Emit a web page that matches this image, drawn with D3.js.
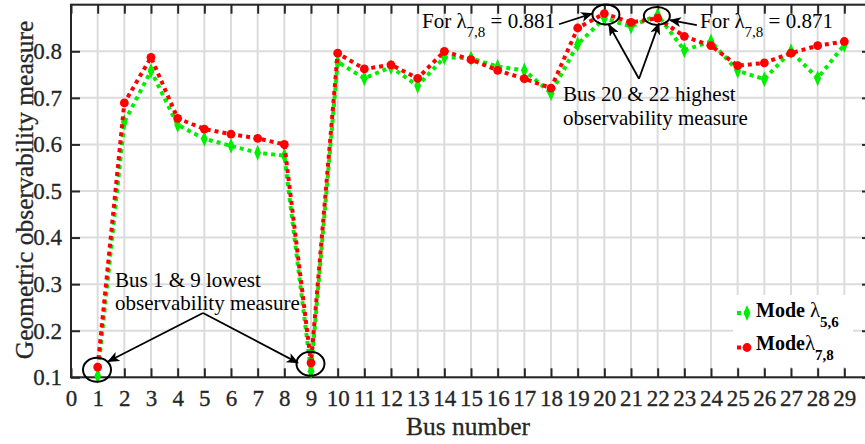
<!DOCTYPE html>
<html>
<head>
<meta charset="utf-8">
<script src="https://cdn.jsdelivr.net/npm/d3@7"></script>
<style>
  body { margin: 0; background: #fff; }
</style>
</head>
<body>
<div id="chart"></div>
<script>
// bus numbers on the x axis
var busNumbers = d3.range(1, 30);

// geometric observability measure for mode lambda 5,6 (green)
var modeL56 = [0.103, 0.648, 0.758, 0.642, 0.612, 0.597, 0.582, 0.576, 0.113, 0.777,
               0.742, 0.766, 0.726, 0.787, 0.785, 0.767, 0.759, 0.710, 0.815, 0.871,
               0.853, 0.878, 0.802, 0.821, 0.758, 0.740, 0.800, 0.742, 0.814];

// geometric observability measure for mode lambda 7,8 (red)
var modeL78 = [0.122, 0.689, 0.787, 0.656, 0.633, 0.622, 0.613, 0.600, 0.131, 0.796,
               0.762, 0.771, 0.742, 0.800, 0.782, 0.759, 0.741, 0.721, 0.850, 0.881,
               0.862, 0.871, 0.832, 0.812, 0.769, 0.775, 0.796, 0.812, 0.821];

var xTicks = d3.range(0, 30);
var yTicks = [0.1, 0.2, 0.3, 0.4, 0.5, 0.6, 0.7, 0.8];

var width = 865, height = 444;
var margin = {left: 71, top: 4.7, right: -6, bottom: 66.7};
var serif = "Liberation Serif, Times New Roman, serif";

var svg = d3.select("#chart").append("svg")
    .attr("width", width)
    .attr("height", height)
    .attr("font-family", serif);

var x = d3.scaleLinear().domain([0, 30]).range([margin.left, width - margin.right]);
var y = d3.scaleLinear().domain([0.1, 0.9]).range([height - margin.bottom, margin.top]);

var axisColor = "#262626";

// grid lines
var gGrid = svg.append("g").attr("class", "grid");
gGrid.selectAll("line.vx")
    .data(xTicks.concat([30]))
    .enter().append("line")
    .attr("x1", function (d) { return x(d); })
    .attr("x2", function (d) { return x(d); })
    .attr("y1", y(0.1))
    .attr("y2", y(0.9))
    .attr("stroke", "#dcdcdc")
    .attr("stroke-width", 2);
gGrid.selectAll("line.hy")
    .data(yTicks.concat([0.9]))
    .enter().append("line")
    .attr("x1", x(0))
    .attr("x2", x(30))
    .attr("y1", function (d) { return y(d); })
    .attr("y2", function (d) { return y(d); })
    .attr("stroke", "#dcdcdc")
    .attr("stroke-width", 2);

// legend background hides grid behind it
svg.append("rect")
    .attr("x", 733).attr("y", 295)
    .attr("width", 120).attr("height", 72)
    .attr("fill", "white");

// axes: ticks pointing inward, box around the plot
var tickLen = 9;
var gAxes = svg.append("g").attr("class", "axes");

var xAxisBottom = d3.axisBottom(x).tickValues(xTicks).tickSize(-tickLen).tickPadding(12).tickFormat(d3.format("d"));
var xAxisTop = d3.axisTop(x).tickValues(xTicks).tickSize(-tickLen).tickFormat(function () { return ""; });
var yAxisLeft = d3.axisLeft(y).tickValues(yTicks).tickSize(-tickLen).tickPadding(9).tickFormat(d3.format(".1f"));
var yAxisRight = d3.axisRight(y).tickValues(yTicks).tickSize(-tickLen).tickFormat(function () { return ""; });

function styleAxis(g) {
    g.attr("font-family", serif).attr("font-size", 23);
    g.select(".domain").remove();
    g.selectAll(".tick line").attr("stroke", axisColor).attr("stroke-width", 2);
    g.selectAll(".tick text")
        .attr("fill", axisColor)
        .attr("stroke", axisColor)
        .attr("stroke-width", 0.3);
}

gAxes.append("g").attr("transform", "translate(0," + y(0.1) + ")").call(xAxisBottom).call(styleAxis);
gAxes.append("g").attr("transform", "translate(0," + y(0.9) + ")").call(xAxisTop).call(styleAxis);
gAxes.append("g").attr("transform", "translate(" + x(0) + ",0)").call(yAxisLeft).call(styleAxis);
gAxes.append("g").attr("transform", "translate(" + x(30) + ",0)").call(yAxisRight).call(styleAxis);

svg.append("rect")
    .attr("x", x(0)).attr("y", y(0.9))
    .attr("width", x(30) - x(0)).attr("height", y(0.1) - y(0.9))
    .attr("fill", "none").attr("stroke", axisColor).attr("stroke-width", 2);

// axis titles
svg.append("text")
    .attr("x", (x(0) + x(30)) / 2 - 3)
    .attr("y", 435)
    .attr("text-anchor", "middle")
    .attr("font-size", 25.5)
    .attr("fill", axisColor)
    .attr("stroke", axisColor).attr("stroke-width", 0.3)
    .text("Bus number");
svg.append("text")
    .attr("transform", "translate(33," + (y(0.5) - 1) + ") rotate(-90)")
    .attr("text-anchor", "middle")
    .attr("font-size", 25.5)
    .attr("fill", axisColor)
    .attr("stroke", axisColor).attr("stroke-width", 0.3)
    .text("Geometric observability measure");

// series
var line = d3.line()
    .x(function (d) { return x(d[0]); })
    .y(function (d) { return y(d[1]); });

var greenColor = "#00ee00", redColor = "#ff0000";
var greenData = busNumbers.map(function (b, i) { return [b, modeL56[i]]; });
var redData = busNumbers.map(function (b, i) { return [b, modeL78[i]]; });

var diamond = d3.symbol().type(d3.symbolDiamond).size(55);

var gSeries = svg.append("g").attr("class", "series");
gSeries.append("path")
    .datum(greenData)
    .attr("d", line)
    .attr("fill", "none")
    .attr("stroke", greenColor)
    .attr("stroke-width", 4)
    .attr("stroke-dasharray", "4,4");
gSeries.selectAll("path.gm")
    .data(greenData)
    .enter().append("path")
    .attr("class", "gm")
    .attr("d", diamond)
    .attr("transform", function (d) { return "translate(" + x(d[0]) + "," + y(d[1]) + ") scale(0.85,1.15)"; })
    .attr("fill", greenColor);

gSeries.append("path")
    .datum(redData)
    .attr("d", line)
    .attr("fill", "none")
    .attr("stroke", redColor)
    .attr("stroke-width", 4)
    .attr("stroke-dasharray", "4,4");
gSeries.selectAll("circle.rm")
    .data(redData)
    .enter().append("circle")
    .attr("class", "rm")
    .attr("cx", function (d) { return x(d[0]); })
    .attr("cy", function (d) { return y(d[1]); })
    .attr("r", 4.4)
    .attr("fill", redColor);

// annotations
svg.append("defs").append("marker")
    .attr("id", "arrowhead")
    .attr("viewBox", "0 0 12 10")
    .attr("refX", 11).attr("refY", 5)
    .attr("markerWidth", 12).attr("markerHeight", 10)
    .attr("markerUnits", "userSpaceOnUse")
    .attr("orient", "auto")
    .append("path")
    .attr("d", "M0,0 L12,5 L0,10 L3,5 Z")
    .attr("fill", "black");

var gNote = svg.append("g").attr("class", "notes").attr("font-family", serif);

function ellipse(cx, cy, rx, ry) {
    gNote.append("ellipse")
        .attr("cx", x(cx)).attr("cy", y(cy))
        .attr("rx", rx).attr("ry", ry)
        .attr("fill", "none").attr("stroke", "black").attr("stroke-width", 2);
}
function arrow(x1, y1, x2, y2) {
    gNote.append("line")
        .attr("x1", x(x1)).attr("y1", y(y1))
        .attr("x2", x(x2)).attr("y2", y(y2))
        .attr("stroke", "black").attr("stroke-width", 1.8)
        .attr("marker-end", "url(#arrowhead)");
}
function lambdaLabel(px, py, pre, sub, post) {
    var t = gNote.append("text")
        .attr("x", px).attr("y", py)
        .attr("font-size", 21)
        .attr("fill", "black");
    t.append("tspan").text(pre);
    t.append("tspan").attr("dy", 9).attr("font-size", 15).text(sub);
    t.append("tspan").attr("dy", -9).text(post);
}

ellipse(0.975, 0.116, 14, 12);
ellipse(8.98, 0.129, 14, 12);
ellipse(20.06, 0.879, 13.5, 10);
ellipse(21.97, 0.876, 13, 9);

arrow(4.95, 0.238, 1.39, 0.134);
arrow(4.95, 0.238, 8.51, 0.131);
arrow(18.3, 0.858, 19.54, 0.881);
arrow(23.47, 0.856, 22.46, 0.867);
arrow(21.3, 0.741, 20.17, 0.857);
arrow(21.3, 0.741, 22.05, 0.860);

lambdaLabel(422, 28, "For λ", "7,8", " = 0.881");
lambdaLabel(700, 28, "For λ", "7,8", " = 0.871");

var noteLines = [
    [115, 287, "Bus 1 & 9 lowest"],
    [115, 310, "observability measure"],
    [563, 101, "Bus 20 & 22 highest"],
    [563, 124.5, "observability measure"]
];
gNote.selectAll("text.note")
    .data(noteLines)
    .enter().append("text")
    .attr("class", "note")
    .attr("x", function (d) { return d[0]; })
    .attr("y", function (d) { return d[1]; })
    .attr("font-size", 21)
    .attr("fill", "black")
    .text(function (d) { return d[2]; });

// legend
var gLegend = svg.append("g").attr("class", "legend").attr("font-family", serif);
gLegend.append("line")
    .attr("x1", 737).attr("x2", 748).attr("y1", 313).attr("y2", 313)
    .attr("stroke", greenColor).attr("stroke-width", 4).attr("stroke-dasharray", "4,3");
gLegend.append("path")
    .attr("d", diamond)
    .attr("transform", "translate(747,313) scale(0.85,1.15)")
    .attr("fill", greenColor);
gLegend.append("line")
    .attr("x1", 737).attr("x2", 748).attr("y1", 347.5).attr("y2", 347.5)
    .attr("stroke", redColor).attr("stroke-width", 4).attr("stroke-dasharray", "4,3");
gLegend.append("circle")
    .attr("cx", 747).attr("cy", 347.5).attr("r", 4.4)
    .attr("fill", redColor);

var legendText = [["Mode ", "λ", "5,6", 317], ["Mode", "λ", "7,8", 350]];
legendText.forEach(function (d) {
    var t = gLegend.append("text")
        .attr("x", 756).attr("y", d[3])
        .attr("fill", "black")
        .attr("font-size", 20)
        .attr("font-weight", "bold");
    t.append("tspan").text(d[0]);
    t.append("tspan").attr("font-weight", "normal").attr("font-size", 21).text(d[1]);
    t.append("tspan").attr("dy", 10).attr("font-size", 15).text(d[2]);
});
</script>
</body>
</html>
